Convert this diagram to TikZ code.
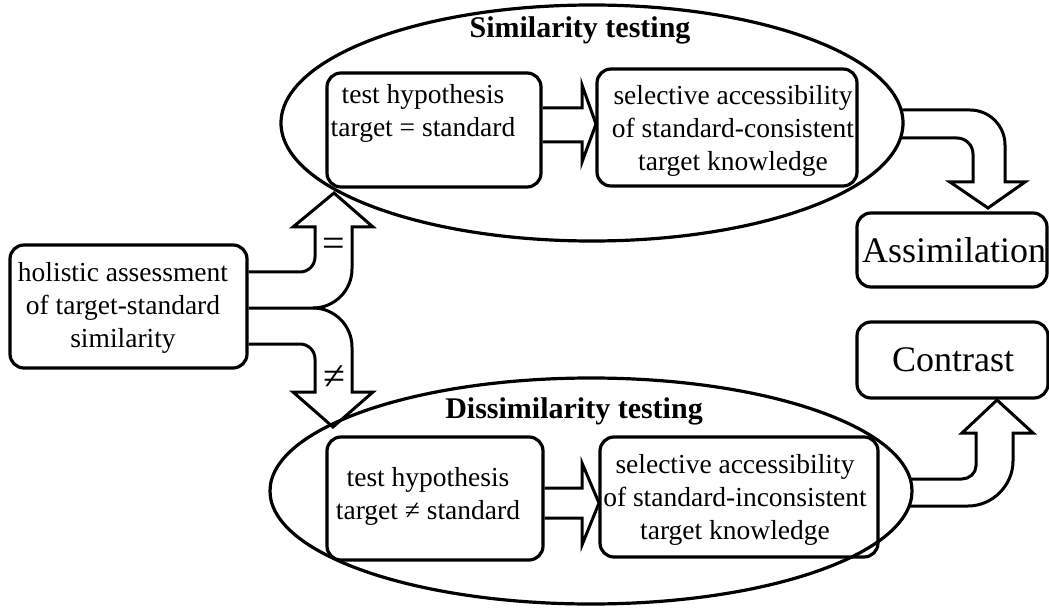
\documentclass[tikz,border=0pt]{standalone}
\usepackage{fontspec}
\setmainfont{Liberation Serif}
\usetikzlibrary{shapes.geometric}
\begin{document}
\begin{tikzpicture}[x=1pt,y=-1pt,
  rbox/.style={draw, line width=3.2pt, rounded corners=14pt, inner sep=0pt},
  oval/.style={draw, ellipse, line width=3.2pt, inner sep=0pt, outer sep=0pt},
  txt/.style={align=center, font=\fontsize{27.5}{33}\selectfont, inner sep=0pt},
  ttl/.style={font=\fontsize{30}{36}\selectfont\bfseries, inner sep=0pt},
  bigtxt/.style={font=\fontsize{36}{40}\selectfont, inner sep=0pt},
  symb/.style={font=\fontsize{40}{40}\selectfont, inner sep=0pt},
  harrow/.style={draw, line width=3pt, line join=miter},
]
\useasboundingbox (0,0) rectangle (1049,612);
\fill[white] (0,0) rectangle (1049,612);

% ellipses
\node[oval, minimum width=622pt, minimum height=236pt] (simE) at (592,123) {};
\node[oval, minimum width=642pt, minimum height=226pt] (disE) at (591,491) {};

% titles
\node[ttl] (simT) at (580,30) {Similarity testing};
\node[ttl] (disT) at (574,411) {Dissimilarity testing};

% boxes
\node[rbox, minimum width=237pt, minimum height=123pt] (hol) at (128.5,306.5) {};
\node[txt] (holT) at (123,308) {holistic assessment\\of target-standard\\similarity};

\node[rbox, minimum width=214pt, minimum height=114pt] (tb1) at (434,130) {};
\node[txt] (tb1T) at (423,113) {test hypothesis\\target = standard};

\node[rbox, minimum width=260pt, minimum height=117pt] (tb2) at (727,127.5) {};
\node[txt] (tb2T) at (733,131) {selective accessibility\\of standard-consistent\\target knowledge};

\node[rbox, minimum width=216pt, minimum height=123pt] (bb1) at (435,498.5) {};
\node[txt] (bb1T) at (428,496) {test hypothesis\\target ≠ standard};

\node[rbox, minimum width=278pt, minimum height=120pt] (bb2) at (739,497) {};
\node[txt] (bb2T) at (735,500) {selective accessibility\\of standard-inconsistent\\target knowledge};

\node[rbox, minimum width=190pt, minimum height=74pt] (assim) at (952,250) {};
\node[bigtxt] (assimT) at (954,250) {Assimilation};

\node[rbox, minimum width=191pt, minimum height=76pt] (contr) at (952.5,360) {};
\node[bigtxt] (contrT) at (953,360) {Contrast};

% inner hollow arrows
\draw[harrow] (tb1.east |- 0,108) -- (582,108) -- (582,85) -- (596,124) -- (582,162) -- (582,142) -- (tb1.east |- 0,142);
\draw[harrow] (bb1.east |- 0,488) -- (582,488) -- (582,463) -- (599,503) -- (582,545) -- (582,518) -- (bb1.east |- 0,518);

% branching arrows from holistic assessment
\draw[harrow] (hol.east |- 0,272) -- (300,272) .. controls (308.3,272) and (315,265.3) .. (315,257)
  -- (315,227) -- (293,227) -- (334,193) -- (373,227) -- (352,227) -- (352,269)
  .. controls (352,290.5) and (334.5,308) .. (313,308) -- (hol.east |- 0,308);
\draw[harrow] (hol.east |- 0,344) -- (300,344) .. controls (308.3,344) and (315,350.7) .. (315,359)
  -- (315,392) -- (293,392) -- (333,427) -- (373,392) -- (352,392) -- (352,347)
  .. controls (352,325.5) and (334.5,308) .. (313,308);
\node[symb] (eqS) at (334,247) {=};
\node[symb] (neqS) at (334,378) {≠};

% to Assimilation
\draw[harrow] (901,110) -- (970,110) .. controls (989.3,110) and (1005,125.7) .. (1005,145)
  -- (1005,182) -- (1025,182) -- (988,208) -- (950,182) -- (973,182) -- (973,154)
  .. controls (973,145.2) and (965.8,138) .. (957,138) -- (901,138);

% to Contrast
\draw[harrow] (909,479) -- (962,479) .. controls (969.2,479) and (976,473.2) .. (976,466)
  -- (976,433) -- (962,433) -- (997,400) -- (1033,433) -- (1013,433) -- (1013,461)
  .. controls (1013,485.2) and (992.8,506) .. (968,506) -- (909,506);
\end{tikzpicture}
\end{document}
